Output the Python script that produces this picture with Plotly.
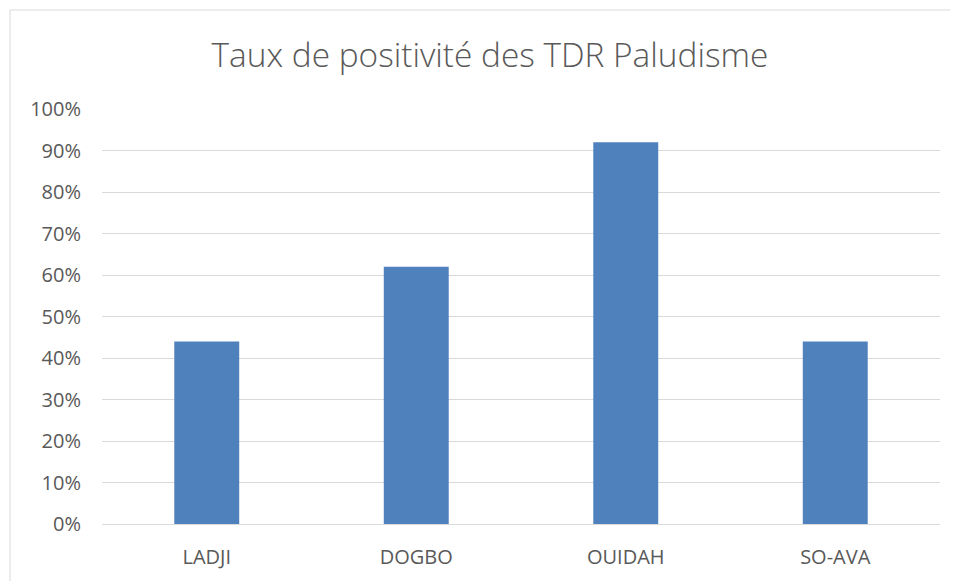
import plotly.graph_objects as go

categories = ["LADJI", "DOGBO", "OUIDAH", "SO-AVA"]
values = [0.44, 0.62, 0.92, 0.44]
tick_vals = [i / 10 for i in range(11)]
tick_text = [f"{i*10}%" for i in range(11)]

# the page adds an 8px body margin, so the figure is offset by 8px
W, H = 950, 573
L, R, T, B = 94, 18, 101, 57
pw, ph = W - L - R, H - T - B

fig = go.Figure(go.Bar(x=categories, y=values, marker=dict(color="#4F81BD", line=dict(width=0))))

fig.update_layout(
    width=W, height=H,
    margin=dict(l=L, r=R, t=T, b=B),
    paper_bgcolor="white", plot_bgcolor="white",
    bargap=0.69,
    showlegend=False,
    font=dict(family="Open Sans", color="#595959"),
    title=dict(text="Taux de positivité des TDR Paludisme", x=(490 - 8) / W, xanchor="center",
               y=1 - 47 / H, yanchor="middle",
               font=dict(family="Open Sans", size=33.4, color="#595959", weight=300)),
    xaxis=dict(showgrid=False, showline=False, zeroline=False, ticks="",
               tickfont=dict(size=20, color="#595959"), ticklabelstandoff=19),
    yaxis=dict(range=[0, 1], tickvals=tick_vals, ticktext=tick_text,
               showgrid=True, gridcolor="#D9D9D9", gridwidth=1,
               zeroline=True, zerolinecolor="#D9D9D9", zerolinewidth=1,
               showline=False, ticks="", ticklabelstandoff=20,
               tickfont=dict(size=20, color="#595959")),
    shapes=[dict(type="rect", xref="paper", yref="paper",
                 x0=(2 - L) / pw, x1=(W + 20 - L) / pw,
                 y0=-(B + 20) / ph, y1=(H - B - 2) / ph,
                 line=dict(color="#D9D9D9", width=1), fillcolor="rgba(0,0,0,0)", layer="below")],
)

fig.write_html("out.html")
